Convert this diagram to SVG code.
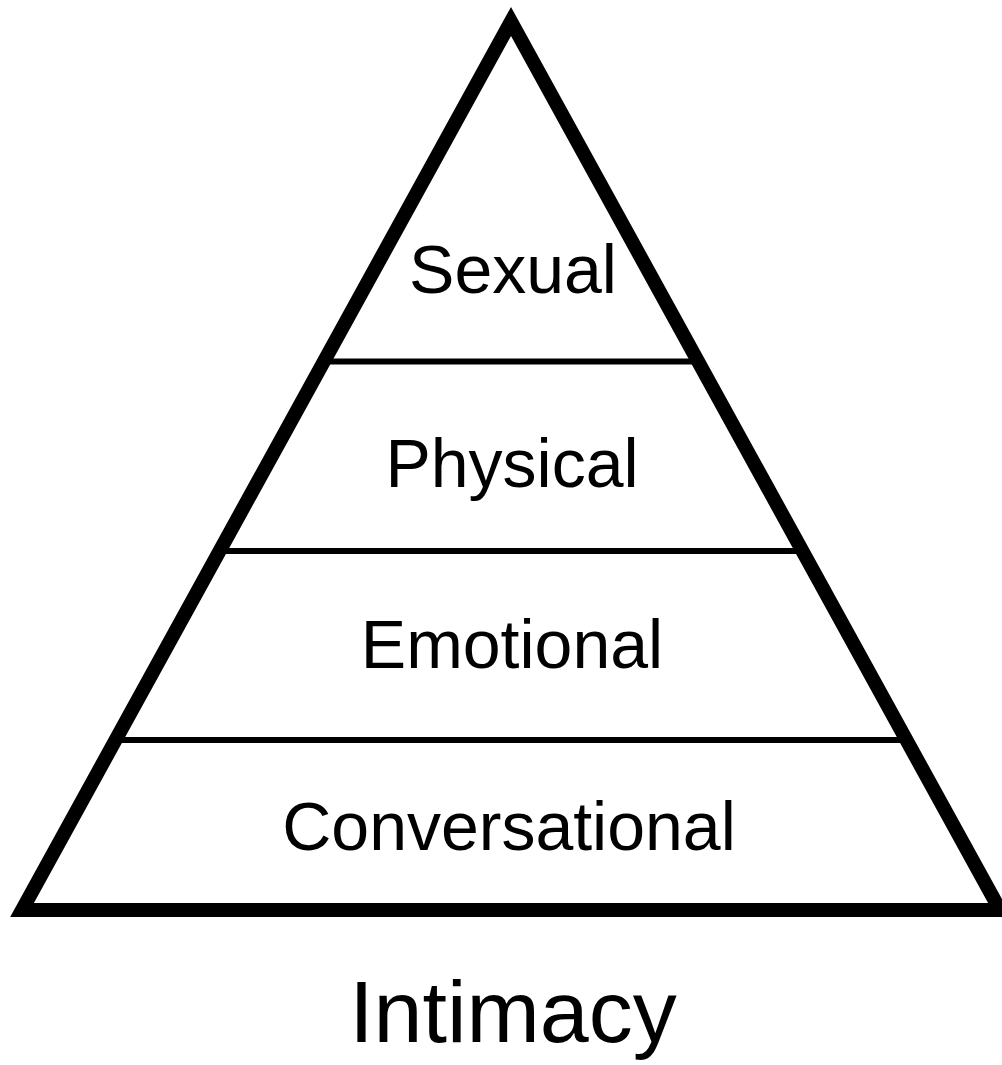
<svg xmlns="http://www.w3.org/2000/svg" width="1002" height="1065" viewBox="0 0 1002 1065">
  <style>
    .tri { fill: #ffffff; stroke: #000000; stroke-width: 14; stroke-linejoin: miter; stroke-miterlimit: 10; }
    .div { stroke: #000000; stroke-width: 6; }
    .lbl { font-family: "Liberation Sans", Arial, Helvetica, sans-serif; font-size: 68px; fill: #000000; text-anchor: middle; }
    .ttl { font-family: "Liberation Sans", Arial, Helvetica, sans-serif; font-size: 88px; fill: #000000; text-anchor: middle; }
  </style>
  <rect width="1002" height="1065" fill="#ffffff"/>
  <g id="pyramid">
    <polygon class="tri" points="511,21.5 22,910 1000,910"/>
  </g>
  <g id="connectors">
    <line class="div" x1="324" y1="361.5" x2="698" y2="361.5"/>
    <line class="div" x1="219.6" y1="551" x2="802.4" y2="551"/>
    <line class="div" x1="115.5" y1="740" x2="906.5" y2="740"/>
  </g>
  <g id="sexual"><text class="lbl" x="513" y="293">Sexual</text></g>
  <g id="physical"><text class="lbl" x="512" y="487">Physical</text></g>
  <g id="emotional"><text class="lbl" x="512" y="668">Emotional</text></g>
  <g id="conversational"><text class="lbl" x="509" y="850">Conversational</text></g>
  <g id="intimacy"><text class="ttl" x="513" y="1042">Intimacy</text></g>
</svg>
